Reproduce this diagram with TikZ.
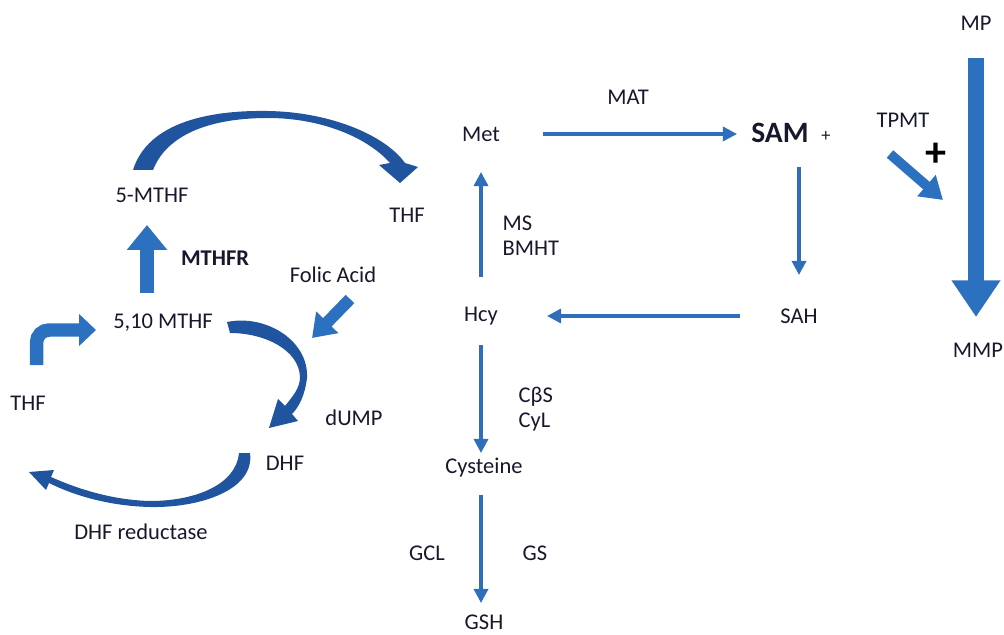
\documentclass[tikz,border=0pt]{standalone}
\usepackage{fontspec}
\setmainfont{Carlito}
\usetikzlibrary{arrows.meta}
\definecolor{flowblue}{RGB}{47,110,186}
\definecolor{curveblue}{RGB}{32,84,158}
\definecolor{fatblue}{RGB}{44,112,192}
\definecolor{inkdark}{RGB}{24,24,44}
\tikzset{
  lbl/.style={text=inkdark, font=\fontsize{16}{18}\selectfont, inner sep=1pt},
  flow/.style={draw=flowblue, line width=2.3pt, -{Triangle[length=10pt,width=10pt]}},
  fat/.style={draw=fatblue, -{Triangle[length=#1]}},
  curved/.style={fill=curveblue}
}
\begin{document}
\begin{tikzpicture}[x=0.025cm, y=-0.025cm]
  \useasboundingbox (0,0) rectangle (1004,635);

  % folate cycle
  \node[lbl] (mthfA) at (152,195) {5-MTHF};
  \node[lbl] (thfA) at (407,215) {THF};
  \node[lbl, font=\bfseries\fontsize{16}{18}\selectfont] (mthfr) at (215,258) {MTHFR};
  \node[lbl] (folic) at (333,275) {Folic Acid};
  \node[lbl] (mthfB) at (163,323) {5,10 MTHF};
  \node[lbl] (thfB) at (28,403) {THF};
  \node[lbl] (dump) at (354,418) {dUMP};
  \node[lbl] (dhf) at (285,463) {DHF};
  \node[lbl] (dhfr) at (141,532) {DHF reductase};

  % curved block arrows
  \fill[curved] (133,170) .. controls (148,122) and (210,110) .. (268,111)
    .. controls (330,112) and (385,135) .. (405,163) -- (418,167) -- (400,183)
    -- (379,165) -- (390,163) .. controls (368,138) and (322,118) .. (268,118)
    .. controls (215,118) and (168,132) .. (153,170) -- cycle;
  \fill[curved] (227,322) .. controls (265,314) and (309,340) .. (307,378)
    .. controls (305,395) and (299,407) .. (292,414) -- (298,421) -- (269,428)
    -- (278,399) -- (285,406) .. controls (293,396) and (300,388) .. (300,377)
    .. controls (299,350) and (265,333) .. (230,333) -- cycle;
  \fill[curved] (250,453) .. controls (255,490) and (200,508) .. (150,507)
    .. controls (110,506) and (75,496) .. (49,483) -- (46,490) -- (29,472)
    -- (54,470) -- (51,477) .. controls (78,489) and (112,500) .. (150,501)
    .. controls (195,501) and (236,485) .. (239,453) -- cycle;

  % straight block arrows
  \coordinate (upS) at (147,293);
  \coordinate (upE) at (147,225);
  \draw[fat=17.7pt, line width=10.6pt, -{Triangle[length=17.7pt,width=27.6pt]}] (upS) -- (upE);
  \coordinate (folS) at (350,299);
  \coordinate (folE) at (312,338);
  \draw[fat=15.6pt, line width=8.5pt, -{Triangle[length=15.6pt,width=21pt]}] (folS) -- (folE);
  \coordinate (bentS) at (36.5,365);
  \coordinate (bentE) at (96,330);
  \draw[fat=12pt, line width=9.6pt, rounded corners=9pt, -{Triangle[length=12pt,width=22pt]}] (bentS) |- (bentE);

  % methionine cycle
  \node[lbl] (met) at (481,134) {Met};
  \node[lbl] (mat) at (628,97) {MAT};
  \node[lbl, font=\bfseries\fontsize{21}{23}\selectfont] (sam) at (780,133) {SAM};
  \node[lbl, font=\fontsize{13}{15}\selectfont] (samplus) at (826,136) {+};
  \node[lbl] (sah) at (799,316) {SAH};
  \node[lbl] (hcy) at (481,316) {Hcy};
  \node[lbl, align=left, anchor=west] (ms) at (501,236) {MS\\BMHT};
  \node[lbl, align=left, anchor=west] (cbs) at (517,409) {CβS\\CyL};
  \node[lbl] (cys) at (484,468) {Cysteine};
  \node[lbl] (gcl) at (427,553) {GCL};
  \node[lbl] (gs) at (535,553) {GS};
  \node[lbl] (gsh) at (484,622) {GSH};

  \draw[flow, shorten <=1.55cm, shorten >=1.075cm] (met.center) -- (met.center -| sam.center);
  \draw[flow, shorten <=0.85cm, shorten >=1.025cm] (sah |- sam) -- (sah.center);
  \draw[flow, shorten <=1.475cm, shorten >=1.65cm] (sah.center) -- (hcy.center);
  \draw[flow, shorten <=0.975cm, shorten >=0.95cm] (hcy.center) -- (met.center);
  \draw[flow, shorten <=0.725cm, shorten >=0.375cm] (hcy.center) -- (hcy |- cys);
  \draw[flow, shorten <=0.675cm, shorten >=0.475cm] (hcy |- cys) -- (hcy |- gsh);

  % thiopurine
  \node[lbl] (mp) at (976,23) {MP};
  \node[lbl] (mmp) at (978,350) {MMP};
  \node[lbl] (tpmt) at (903,120) {TPMT};
  \node[text=black, font=\bfseries\fontsize{30}{30}\selectfont, inner sep=0pt] (plus) at (936,155) {+};
  \draw[fat=26pt, line width=11.3pt, -{Triangle[length=26pt,width=33pt]}, shorten <=0.875cm, shorten >=0.825cm] (mp.center) -- (mp |- mmp);
  \coordinate (tpS) at (890,154);
  \coordinate (tpE) at (943,200);
  \draw[fat=15.6pt, line width=7pt, -{Triangle[length=15.6pt,width=19pt]}] (tpS) -- (tpE);
\end{tikzpicture}
\end{document}
